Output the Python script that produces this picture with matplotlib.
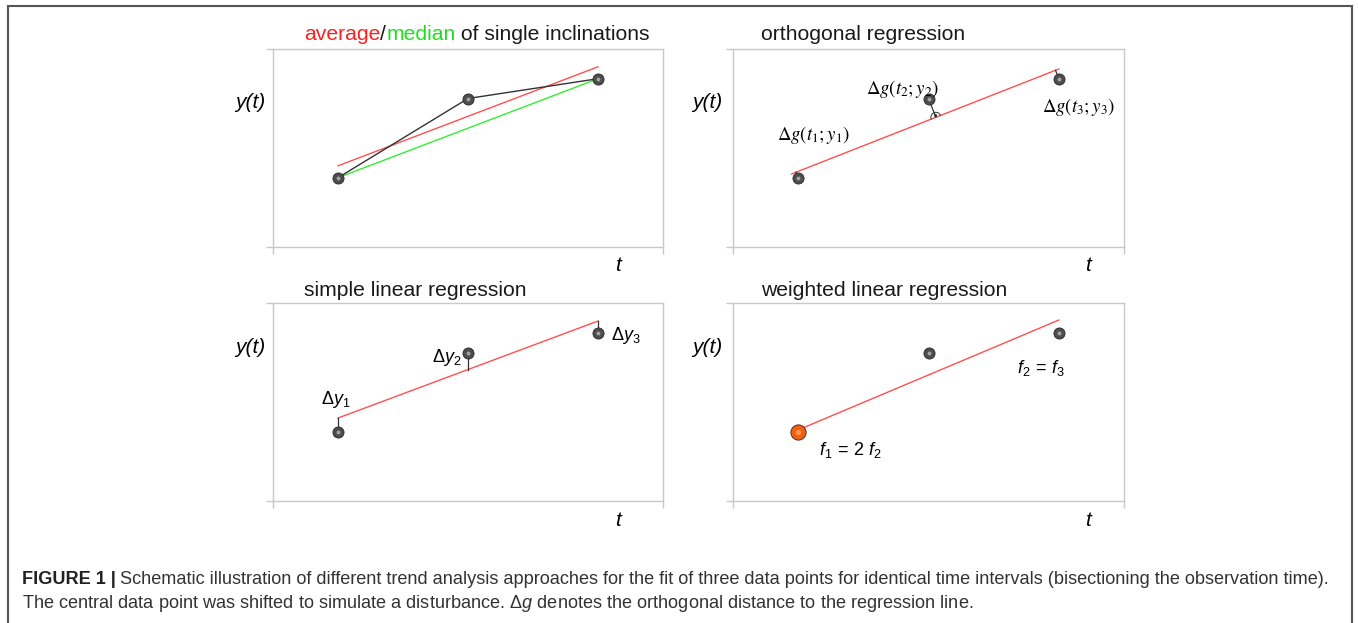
"""Schematic of trend analysis approaches (four panels + caption)."""
import matplotlib
matplotlib.use("Agg")
import matplotlib.pyplot as plt
from matplotlib.lines import Line2D
import numpy as np

# ── Data ────────────────────────────────────────────────────────────────────
t_pts = [1, 2, 3]
y_pts = [3.5, 7.5, 8.5]

# fitted lines: (t_start, t_end), (y_start, y_end)
avg_t, avg_y = [1.0, 3.0], [4.1, 9.1]          # average of inclinations
med_t, med_y = [1.0, 3.0], [3.5, 8.5]          # median of inclinations
orth_t, orth_y = [0.95, 3.0], [3.69, 8.99]     # orthogonal regression
ols_t, ols_y = [1.0, 3.0], [4.19, 9.09]        # simple linear regression
wls_t, wls_y = [1.0, 3.0], [3.59, 9.14]        # weighted linear regression

titles = ["orthogonal regression", "simple linear regression",
          "weighted linear regression"]

# ── Canvas ──────────────────────────────────────────────────────────────────
W, H = 1358, 623
fig = plt.figure(figsize=(W / 100, H / 100), dpi=100)
fig.patch.set_facecolor("white")
plt.rcParams["font.family"] = ["Liberation Sans", "DejaVu Sans"]
plt.rcParams["mathtext.fontset"] = "custom"
plt.rcParams["mathtext.it"] = "Liberation Sans:italic"
plt.rcParams["mathtext.rm"] = "Liberation Sans"

C_SPINE = "#c8c8c8"
C_RED = "#ff5050"
C_GREEN = "#33ee33"


def px_axes(x0, y0, x1, y1):
    return fig.add_axes([x0 / W, 1 - y1 / H, (x1 - x0) / W, (y1 - y0) / H])


def fig_text(x, y, s, **kw):
    return fig.text(x / W, 1 - y / H, s, **kw)


def setup(ax):
    ax.set_xlim(0.5, 3.5)
    ax.set_ylim(0, 10)
    ax.set_xticks([0.5, 3.5])
    ax.set_yticks([0, 10])
    ax.set_xticklabels([])
    ax.set_yticklabels([])
    ax.tick_params(direction="out", length=5, width=1, color=C_SPINE)
    for s in ax.spines.values():
        s.set_color(C_SPINE)
        s.set_linewidth(1)


def balls(ax, t, y, color="#4d4d4d", size=8, hl="#c8c8c8"):
    ax.plot(t, y, "o", ms=size, color=color, mec="#2a2a2a", mew=0.6, zorder=5)
    ax.plot(t, y, "o", ms=size * 0.35, color=hl, mec="none", zorder=6,
            alpha=0.7)


# panel boxes in pixels
boxes = [(273, 49, 663, 247), (733, 49, 1124, 247),
         (273, 303, 663, 501), (733, 303, 1124, 501)]
axs = [px_axes(*b) for b in boxes]
for ax in axs:
    setup(ax)

# ── Panel 1: average / median of single inclinations ───────────────────────
ax = axs[0]
ax.plot(avg_t, avg_y, color=C_RED, lw=1)
ax.plot(med_t, med_y, color=C_GREEN, lw=1)
ax.plot(t_pts, y_pts, color="#333333", lw=1)
balls(ax, t_pts, y_pts)

# ── Panel 2: orthogonal regression ─────────────────────────────────────────
ax = axs[1]
ax.plot(orth_t, orth_y, color=C_RED, lw=1)
# feet of perpendiculars, computed in display space
tr = ax.transData
p0 = tr.transform((orth_t[0], orth_y[0]))
p1 = tr.transform((orth_t[1], orth_y[1]))
d = (p1 - p0) / np.linalg.norm(p1 - p0)
for t, y in zip(t_pts, y_pts):
    q = tr.transform((t, y))
    foot = p0 + np.dot(q - p0, d) * d
    ft = tr.inverted().transform(foot)
    ax.plot([t, ft[0]], [y, ft[1]], color="#333333", lw=0.9, zorder=4)
# right-angle mark at central point
q = tr.transform((t_pts[1], y_pts[1]))
foot = p0 + np.dot(q - p0, d) * d
nrm = (q - foot) / np.linalg.norm(q - foot)
arc = [foot + 5 * (np.cos(a) * d + np.sin(a) * nrm)
       for a in np.linspace(0, np.pi, 12)]
arc = tr.inverted().transform(np.array(arc))
ax.plot(arc[:, 0], arc[:, 1], color="#333333", lw=0.7, zorder=4)
dot = tr.inverted().transform(foot + 2 * nrm)
ax.plot([dot[0]], [dot[1]], "o", ms=1.2, color="#333333", zorder=4)
balls(ax, t_pts, y_pts)

# ── Panel 3: simple linear regression ──────────────────────────────────────
ax = axs[2]
ax.plot(ols_t, ols_y, color=C_RED, lw=1)
slope = (ols_y[1] - ols_y[0]) / (ols_t[1] - ols_t[0])
for t, y in zip(t_pts, y_pts):
    yl = ols_y[0] + slope * (t - ols_t[0])
    ax.plot([t, t], [y, yl], color="#333333", lw=0.9, zorder=4)
balls(ax, t_pts, y_pts)

# ── Panel 4: weighted linear regression ────────────────────────────────────
ax = axs[3]
ax.plot(wls_t, wls_y, color=C_RED, lw=1)
balls(ax, t_pts[1:], y_pts[1:])
balls(ax, t_pts[:1], y_pts[:1], color="#f06010", size=11, hl="#ffb060")

# ── Titles and labels ──────────────────────────────────────────────────────
TS = 15.2
fig.canvas.draw()
r = fig.canvas.get_renderer()
x = 304
for part, col in [("average", "#ff2020"), ("/", "#1a1a1a"),
                  ("median", "#22dd22"), (" of single inclinations", "#1a1a1a")]:
    txt = fig_text(x, 34, part, color=col, fontsize=TS, va="center")
    x = txt.get_window_extent(r).x1
fig_text(761, 34, titles[0], fontsize=TS, va="center", color="#1a1a1a")
fig_text(304, 290, titles[1], fontsize=TS, va="center", color="#1a1a1a")
fig_text(761, 290, titles[2], fontsize=TS, va="center", color="#1a1a1a")

for (x, y) in [(250, 103), (707, 103), (250, 348), (707, 348)]:
    fig_text(x, y, "y(t)", fontsize=15, style="italic", ha="center",
             va="center")
for (x, y) in [(618, 265), (1088, 265), (618, 520), (1088, 520)]:
    fig_text(x, y, "t", fontsize=15, style="italic", ha="center",
             va="center")

for (x, y, s) in [(777, 135, r"$\mathit{\Delta g}(\mathit{t}_1{;}\mathit{y}_1)$"),
                  (866, 89, r"$\mathit{\Delta g}(\mathit{t}_2{;}\mathit{y}_2)$"),
                  (1042, 107, r"$\mathit{\Delta g}(\mathit{t}_3{;}\mathit{y}_3)$")]:
    fig_text(x, y, s, fontsize=13.5, ha="left", va="center",
             math_fontfamily="stix")

for (x, y, s) in [(321, 400, r"$\mathit{\Delta y}_{\mathit{1}}$"),
                  (432, 357, r"$\mathit{\Delta y}_{\mathit{2}}$"),
                  (611, 335, r"$\mathit{\Delta y}_{\mathit{3}}$"),
                  (819, 450, r"$\mathit{f}_{\mathit{1}}\mathit{\,=\,2\ f}_{\mathit{2}}$"),
                  (1017, 368, r"$\mathit{f}_{\mathit{2}}\mathit{\,=\,f}_{\mathit{3}}$")]:
    fig_text(x, y, s, fontsize=13, ha="left", va="center")

# ── Frame and caption ──────────────────────────────────────────────────────
fc = "#555555"
fig.add_artist(Line2D([8 / W, 8 / W], [0, 1 - 6 / H], color=fc, lw=1.5))
fig.add_artist(Line2D([8 / W, 1352 / W], [1 - 6 / H, 1 - 6 / H], color=fc,
                      lw=1.5))
fig.add_artist(Line2D([1352 / W, 1352 / W], [0, 1 - 6 / H], color=fc, lw=1.5))

CS = 13.05
cap = fig_text(22, 580, "FIGURE 1 |", fontsize=CS, fontweight="bold",
               va="center", color="#222222")
bb = cap.get_window_extent(r)
fig_text(bb.x1 + 4, 580,
         "Schematic illustration of different trend analysis approaches for the "
         "fit of three data points for identical time intervals (bisectioning "
         "the observation time).",
         fontsize=CS, va="center", color="#333333")
fig_text(22, 603,
         r"The central data point was shifted to simulate a disturbance. "
         r"$\Delta\mathit{g}$ denotes the orthogonal distance to the regression line.",
         fontsize=CS, va="center", color="#333333")

fig.savefig("out.png", dpi=100, facecolor="white")
plt.close(fig)
